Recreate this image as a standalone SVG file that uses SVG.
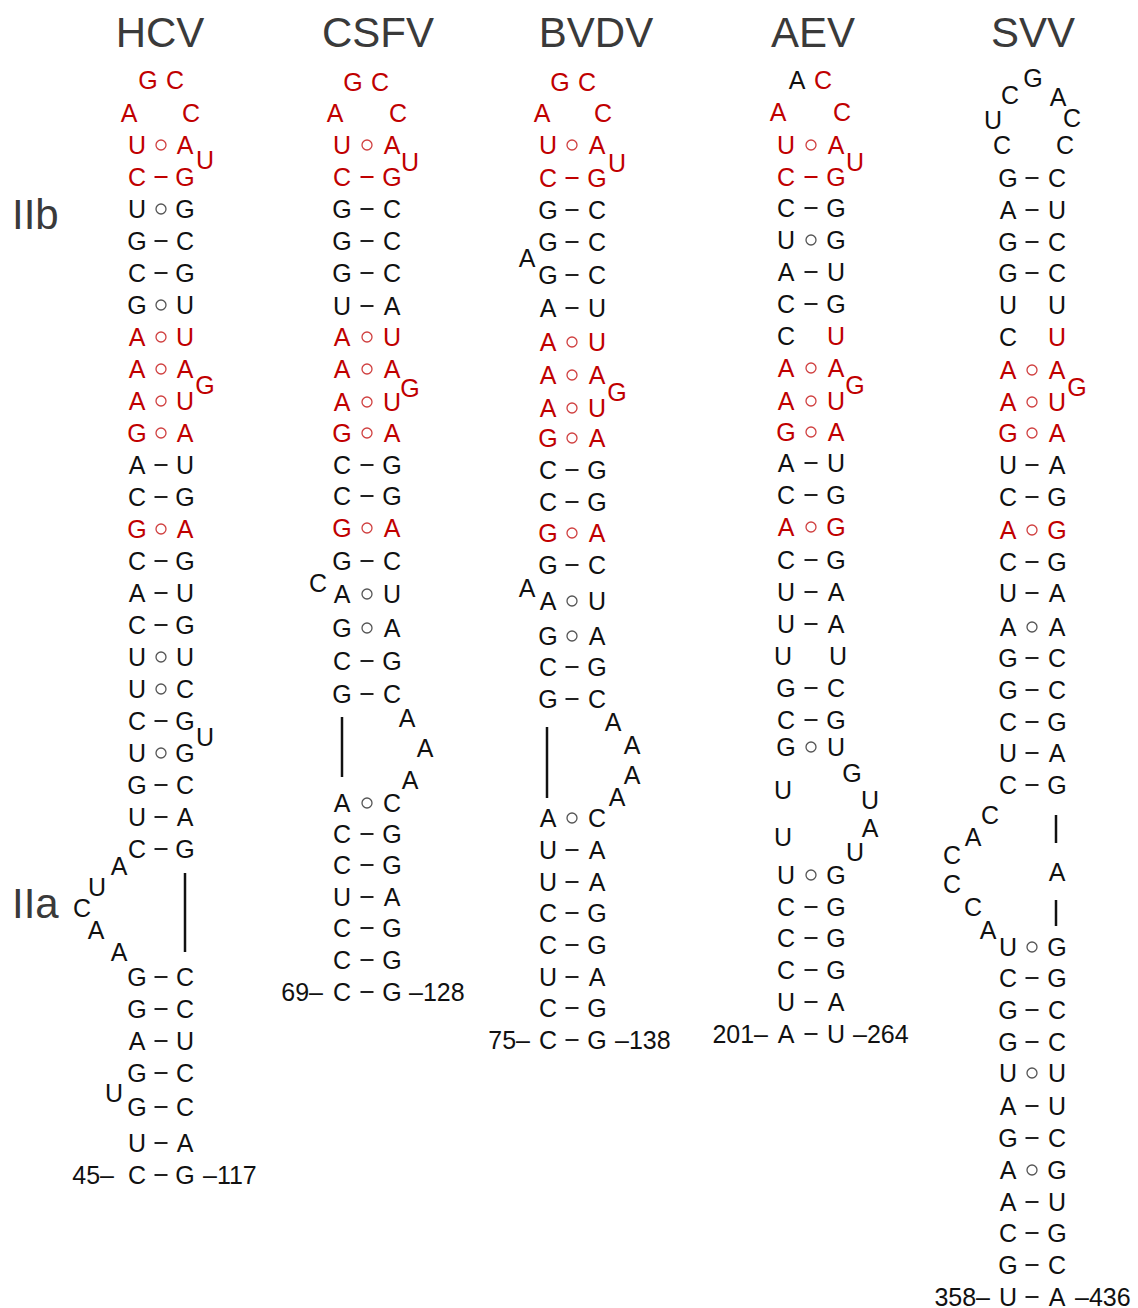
<svg xmlns="http://www.w3.org/2000/svg" width="1138" height="1308" viewBox="0 0 1138 1308">
<style>
text{font-family:"Liberation Sans",Arial,sans-serif;font-size:25px;fill:#111;text-anchor:middle}
text.r{fill:#c00000}
text.h{font-size:42px;fill:#3a3a3a}
text.s{text-anchor:start}
text.e{text-anchor:end}
line.d{stroke:#222;stroke-width:2}
line.d.r{stroke:#c00000}
circle{fill:none;stroke:#555;stroke-width:1.3}
circle.r{stroke:#d04040}
line.v{stroke:#111;stroke-width:2.5}
</style>
<rect width="1138" height="1308" fill="#fff"/>
<g id="titles">
<text class="h" x="160" y="47">HCV</text>
<text class="h" x="378" y="47">CSFV</text>
<text class="h" x="596" y="47">BVDV</text>
<text class="h" x="813" y="47">AEV</text>
<text class="h" x="1033" y="47">SVV</text>
<text class="h s" x="12" y="229">IIb</text>
<text class="h s" x="12" y="918">IIa</text>
</g>
<g id="HCV">
<text class="r" x="148" y="88.5">G</text><text class="r" x="175" y="88.5">C</text>
<text class="r" x="129" y="121.5">A</text><text class="r" x="191" y="121.5">C</text>
<text class="r" x="137" y="153.5">U</text><circle class="r" cx="161" cy="145" r="5"/><text class="r" x="185" y="153.5">A</text>
<text class="r" x="205" y="168.5">U</text>
<text class="r" x="137" y="185.5">C</text><line class="d r" x1="154.5" y1="177" x2="167.5" y2="177"/><text class="r" x="185" y="185.5">G</text>
<text x="137" y="217.5">U</text><circle cx="161" cy="209" r="5"/><text x="185" y="217.5">G</text>
<text x="137" y="249.5">G</text><line class="d" x1="154.5" y1="241" x2="167.5" y2="241"/><text x="185" y="249.5">C</text>
<text x="137" y="281.5">C</text><line class="d" x1="154.5" y1="273" x2="167.5" y2="273"/><text x="185" y="281.5">G</text>
<text x="137" y="313.5">G</text><circle cx="161" cy="305" r="5"/><text x="185" y="313.5">U</text>
<text class="r" x="137" y="345.5">A</text><circle class="r" cx="161" cy="337" r="5"/><text class="r" x="185" y="345.5">U</text>
<text class="r" x="137" y="377.5">A</text><circle class="r" cx="161" cy="369" r="5"/><text class="r" x="185" y="377.5">A</text>
<text class="r" x="205" y="393.5">G</text>
<text class="r" x="137" y="409.5">A</text><circle class="r" cx="161" cy="401" r="5"/><text class="r" x="185" y="409.5">U</text>
<text class="r" x="137" y="441.5">G</text><circle class="r" cx="161" cy="433" r="5"/><text class="r" x="185" y="441.5">A</text>
<text x="137" y="473.5">A</text><line class="d" x1="154.5" y1="465" x2="167.5" y2="465"/><text x="185" y="473.5">U</text>
<text x="137" y="505.5">C</text><line class="d" x1="154.5" y1="497" x2="167.5" y2="497"/><text x="185" y="505.5">G</text>
<text class="r" x="137" y="537.5">G</text><circle class="r" cx="161" cy="529" r="5"/><text class="r" x="185" y="537.5">A</text>
<text x="137" y="569.5">C</text><line class="d" x1="154.5" y1="561" x2="167.5" y2="561"/><text x="185" y="569.5">G</text>
<text x="137" y="601.5">A</text><line class="d" x1="154.5" y1="593" x2="167.5" y2="593"/><text x="185" y="601.5">U</text>
<text x="137" y="633.5">C</text><line class="d" x1="154.5" y1="625" x2="167.5" y2="625"/><text x="185" y="633.5">G</text>
<text x="137" y="665.5">U</text><circle cx="161" cy="657" r="5"/><text x="185" y="665.5">U</text>
<text x="137" y="697.5">U</text><circle cx="161" cy="689" r="5"/><text x="185" y="697.5">C</text>
<text x="137" y="729.5">C</text><line class="d" x1="154.5" y1="721" x2="167.5" y2="721"/><text x="185" y="729.5">G</text>
<text x="205" y="745.5">U</text>
<text x="137" y="761.5">U</text><circle cx="161" cy="753" r="5"/><text x="185" y="761.5">G</text>
<text x="137" y="793.5">G</text><line class="d" x1="154.5" y1="785" x2="167.5" y2="785"/><text x="185" y="793.5">C</text>
<text x="137" y="825.5">U</text><line class="d" x1="154.5" y1="817" x2="167.5" y2="817"/><text x="185" y="825.5">A</text>
<text x="137" y="857.5">C</text><line class="d" x1="154.5" y1="849" x2="167.5" y2="849"/><text x="185" y="857.5">G</text>
<text x="119" y="874.5">A</text><text x="97" y="895.5">U</text><text x="82" y="916.5">C</text><text x="96" y="938.5">A</text><text x="119" y="960.5">A</text>
<text x="137" y="985.5">G</text><line class="d" x1="154.5" y1="977" x2="167.5" y2="977"/><text x="185" y="985.5">C</text>
<text x="137" y="1017.5">G</text><line class="d" x1="154.5" y1="1009" x2="167.5" y2="1009"/><text x="185" y="1017.5">C</text>
<text x="137" y="1049.5">A</text><line class="d" x1="154.5" y1="1041" x2="167.5" y2="1041"/><text x="185" y="1049.5">U</text>
<text x="137" y="1081.5">G</text><line class="d" x1="154.5" y1="1073" x2="167.5" y2="1073"/><text x="185" y="1081.5">C</text>
<text x="114" y="1101.5">U</text>
<text x="137" y="1115.5">G</text><line class="d" x1="154.5" y1="1107" x2="167.5" y2="1107"/><text x="185" y="1115.5">C</text>
<text x="137" y="1151.5">U</text><line class="d" x1="154.5" y1="1143" x2="167.5" y2="1143"/><text x="185" y="1151.5">A</text>
<text class="e" x="114" y="1183.5">45–</text>
<text x="137" y="1183.5">C</text><line class="d" x1="154.5" y1="1175" x2="167.5" y2="1175"/><text x="185" y="1183.5">G</text>
<text class="s" x="203" y="1183.5">–117</text>
</g>
<g id="CSFV">
<text class="r" x="353" y="90.5">G</text><text class="r" x="380" y="90.5">C</text>
<text class="r" x="335" y="121.5">A</text><text class="r" x="398" y="121.5">C</text>
<text class="r" x="342" y="153.5">U</text><circle class="r" cx="367" cy="145" r="5"/><text class="r" x="392" y="153.5">A</text>
<text class="r" x="410" y="170.5">U</text>
<text class="r" x="342" y="185.5">C</text><line class="d r" x1="360.5" y1="177" x2="373.5" y2="177"/><text class="r" x="392" y="185.5">G</text>
<text x="342" y="217.5">G</text><line class="d" x1="360.5" y1="209" x2="373.5" y2="209"/><text x="392" y="217.5">C</text>
<text x="342" y="249.5">G</text><line class="d" x1="360.5" y1="241" x2="373.5" y2="241"/><text x="392" y="249.5">C</text>
<text x="342" y="281.5">G</text><line class="d" x1="360.5" y1="273" x2="373.5" y2="273"/><text x="392" y="281.5">C</text>
<text x="342" y="314.5">U</text><line class="d" x1="360.5" y1="306" x2="373.5" y2="306"/><text x="392" y="314.5">A</text>
<text class="r" x="342" y="345.5">A</text><circle class="r" cx="367" cy="337" r="5"/><text class="r" x="392" y="345.5">U</text>
<text class="r" x="342" y="377.5">A</text><circle class="r" cx="367" cy="369" r="5"/><text class="r" x="392" y="377.5">A</text>
<text class="r" x="410" y="396.5">G</text>
<text class="r" x="342" y="410.5">A</text><circle class="r" cx="367" cy="402" r="5"/><text class="r" x="392" y="410.5">U</text>
<text class="r" x="342" y="441.5">G</text><circle class="r" cx="367" cy="433" r="5"/><text class="r" x="392" y="441.5">A</text>
<text x="342" y="473.5">C</text><line class="d" x1="360.5" y1="465" x2="373.5" y2="465"/><text x="392" y="473.5">G</text>
<text x="342" y="504.5">C</text><line class="d" x1="360.5" y1="496" x2="373.5" y2="496"/><text x="392" y="504.5">G</text>
<text class="r" x="342" y="536.5">G</text><circle class="r" cx="367" cy="528" r="5"/><text class="r" x="392" y="536.5">A</text>
<text x="342" y="569.5">G</text><line class="d" x1="360.5" y1="561" x2="373.5" y2="561"/><text x="392" y="569.5">C</text>
<text x="318" y="591.5">C</text>
<text x="342" y="602.5">A</text><circle cx="367" cy="594" r="5"/><text x="392" y="602.5">U</text>
<text x="342" y="636.5">G</text><circle cx="367" cy="628" r="5"/><text x="392" y="636.5">A</text>
<text x="342" y="669.5">C</text><line class="d" x1="360.5" y1="661" x2="373.5" y2="661"/><text x="392" y="669.5">G</text>
<text x="342" y="702.5">G</text><line class="d" x1="360.5" y1="694" x2="373.5" y2="694"/><text x="392" y="702.5">C</text>
<text x="407" y="726.5">A</text><text x="425" y="756.5">A</text><text x="410" y="788.5">A</text>
<text x="342" y="811.5">A</text><circle cx="367" cy="803" r="5"/><text x="392" y="811.5">C</text>
<text x="342" y="842.5">C</text><line class="d" x1="360.5" y1="834" x2="373.5" y2="834"/><text x="392" y="842.5">G</text>
<text x="342" y="873.5">C</text><line class="d" x1="360.5" y1="865" x2="373.5" y2="865"/><text x="392" y="873.5">G</text>
<text x="342" y="905.5">U</text><line class="d" x1="360.5" y1="897" x2="373.5" y2="897"/><text x="392" y="905.5">A</text>
<text x="342" y="936.5">C</text><line class="d" x1="360.5" y1="928" x2="373.5" y2="928"/><text x="392" y="936.5">G</text>
<text x="342" y="968.5">C</text><line class="d" x1="360.5" y1="960" x2="373.5" y2="960"/><text x="392" y="968.5">G</text>
<text class="e" x="323" y="1000.5">69–</text>
<text x="342" y="1000.5">C</text><line class="d" x1="360.5" y1="992" x2="373.5" y2="992"/><text x="392" y="1000.5">G</text>
<text class="s" x="409" y="1000.5">–128</text>
</g>
<g id="BVDV">
<text class="r" x="560" y="90.5">G</text><text class="r" x="587" y="90.5">C</text>
<text class="r" x="542" y="121.5">A</text><text class="r" x="603" y="121.5">C</text>
<text class="r" x="548" y="153.5">U</text><circle class="r" cx="572" cy="145" r="5"/><text class="r" x="597" y="153.5">A</text>
<text class="r" x="617" y="171.5">U</text>
<text class="r" x="548" y="186.5">C</text><line class="d r" x1="565.5" y1="178" x2="578.5" y2="178"/><text class="r" x="597" y="186.5">G</text>
<text x="548" y="218.5">G</text><line class="d" x1="565.5" y1="210" x2="578.5" y2="210"/><text x="597" y="218.5">C</text>
<text x="548" y="250.5">G</text><line class="d" x1="565.5" y1="242" x2="578.5" y2="242"/><text x="597" y="250.5">C</text>
<text x="527" y="266.5">A</text>
<text x="548" y="283.5">G</text><line class="d" x1="565.5" y1="275" x2="578.5" y2="275"/><text x="597" y="283.5">C</text>
<text x="548" y="316.5">A</text><line class="d" x1="565.5" y1="308" x2="578.5" y2="308"/><text x="597" y="316.5">U</text>
<text class="r" x="548" y="350.5">A</text><circle class="r" cx="572" cy="342" r="5"/><text class="r" x="597" y="350.5">U</text>
<text class="r" x="548" y="383.5">A</text><circle class="r" cx="572" cy="375" r="5"/><text class="r" x="597" y="383.5">A</text>
<text class="r" x="617" y="400.5">G</text>
<text class="r" x="548" y="416.5">A</text><circle class="r" cx="572" cy="408" r="5"/><text class="r" x="597" y="416.5">U</text>
<text class="r" x="548" y="446.5">G</text><circle class="r" cx="572" cy="438" r="5"/><text class="r" x="597" y="446.5">A</text>
<text x="548" y="478.5">C</text><line class="d" x1="565.5" y1="470" x2="578.5" y2="470"/><text x="597" y="478.5">G</text>
<text x="548" y="510.5">C</text><line class="d" x1="565.5" y1="502" x2="578.5" y2="502"/><text x="597" y="510.5">G</text>
<text class="r" x="548" y="541.5">G</text><circle class="r" cx="572" cy="533" r="5"/><text class="r" x="597" y="541.5">A</text>
<text x="548" y="573.5">G</text><line class="d" x1="565.5" y1="565" x2="578.5" y2="565"/><text x="597" y="573.5">C</text>
<text x="527" y="596.5">A</text>
<text x="548" y="609.5">A</text><circle cx="572" cy="601" r="5"/><text x="597" y="609.5">U</text>
<text x="548" y="644.5">G</text><circle cx="572" cy="636" r="5"/><text x="597" y="644.5">A</text>
<text x="548" y="675.5">C</text><line class="d" x1="565.5" y1="667" x2="578.5" y2="667"/><text x="597" y="675.5">G</text>
<text x="548" y="707.5">G</text><line class="d" x1="565.5" y1="699" x2="578.5" y2="699"/><text x="597" y="707.5">C</text>
<text x="613" y="730.5">A</text><text x="632" y="753.5">A</text><text x="632" y="783.5">A</text><text x="617" y="805.5">A</text>
<text x="548" y="826.5">A</text><circle cx="572" cy="818" r="5"/><text x="597" y="826.5">C</text>
<text x="548" y="858.5">U</text><line class="d" x1="565.5" y1="850" x2="578.5" y2="850"/><text x="597" y="858.5">A</text>
<text x="548" y="890.5">U</text><line class="d" x1="565.5" y1="882" x2="578.5" y2="882"/><text x="597" y="890.5">A</text>
<text x="548" y="921.5">C</text><line class="d" x1="565.5" y1="913" x2="578.5" y2="913"/><text x="597" y="921.5">G</text>
<text x="548" y="953.5">C</text><line class="d" x1="565.5" y1="945" x2="578.5" y2="945"/><text x="597" y="953.5">G</text>
<text x="548" y="985.5">U</text><line class="d" x1="565.5" y1="977" x2="578.5" y2="977"/><text x="597" y="985.5">A</text>
<text x="548" y="1016.5">C</text><line class="d" x1="565.5" y1="1008" x2="578.5" y2="1008"/><text x="597" y="1016.5">G</text>
<text class="e" x="530" y="1048.5">75–</text>
<text x="548" y="1048.5">C</text><line class="d" x1="565.5" y1="1040" x2="578.5" y2="1040"/><text x="597" y="1048.5">G</text>
<text class="s" x="615" y="1048.5">–138</text>
</g>
<g id="AEV">
<text x="797" y="88.5">A</text><text class="r" x="823" y="88.5">C</text>
<text class="r" x="778" y="120.5">A</text><text class="r" x="842" y="120.5">C</text>
<text class="r" x="786" y="153.5">U</text><circle class="r" cx="811" cy="145" r="5"/><text class="r" x="836" y="153.5">A</text>
<text class="r" x="855" y="170.5">U</text>
<text class="r" x="786" y="185.5">C</text><line class="d r" x1="804.5" y1="177" x2="817.5" y2="177"/><text class="r" x="836" y="185.5">G</text>
<text x="786" y="216.5">C</text><line class="d" x1="804.5" y1="208" x2="817.5" y2="208"/><text x="836" y="216.5">G</text>
<text x="786" y="248.5">U</text><circle cx="811" cy="240" r="5"/><text x="836" y="248.5">G</text>
<text x="786" y="280.5">A</text><line class="d" x1="804.5" y1="272" x2="817.5" y2="272"/><text x="836" y="280.5">U</text>
<text x="786" y="312.5">C</text><line class="d" x1="804.5" y1="304" x2="817.5" y2="304"/><text x="836" y="312.5">G</text>
<text x="786" y="344.5">C</text><text class="r" x="836" y="344.5">U</text>
<text class="r" x="786" y="376.5">A</text><circle class="r" cx="811" cy="368" r="5"/><text class="r" x="836" y="376.5">A</text>
<text class="r" x="855" y="393.5">G</text>
<text class="r" x="786" y="409.5">A</text><circle class="r" cx="811" cy="401" r="5"/><text class="r" x="836" y="409.5">U</text>
<text class="r" x="786" y="440.5">G</text><circle class="r" cx="811" cy="432" r="5"/><text class="r" x="836" y="440.5">A</text>
<text x="786" y="471.5">A</text><line class="d" x1="804.5" y1="463" x2="817.5" y2="463"/><text x="836" y="471.5">U</text>
<text x="786" y="503.5">C</text><line class="d" x1="804.5" y1="495" x2="817.5" y2="495"/><text x="836" y="503.5">G</text>
<text class="r" x="786" y="535.5">A</text><circle class="r" cx="811" cy="527" r="5"/><text class="r" x="836" y="535.5">G</text>
<text x="786" y="568.5">C</text><line class="d" x1="804.5" y1="560" x2="817.5" y2="560"/><text x="836" y="568.5">G</text>
<text x="786" y="600.5">U</text><line class="d" x1="804.5" y1="592" x2="817.5" y2="592"/><text x="836" y="600.5">A</text>
<text x="786" y="632.5">U</text><line class="d" x1="804.5" y1="624" x2="817.5" y2="624"/><text x="836" y="632.5">A</text>
<text x="783" y="664.5">U</text><text x="838" y="664.5">U</text>
<text x="786" y="696.5">G</text><line class="d" x1="804.5" y1="688" x2="817.5" y2="688"/><text x="836" y="696.5">C</text>
<text x="786" y="728.5">C</text><line class="d" x1="804.5" y1="720" x2="817.5" y2="720"/><text x="836" y="728.5">G</text>
<text x="786" y="755.5">G</text><circle cx="811" cy="747" r="5"/><text x="836" y="755.5">U</text>
<text x="783" y="798.5">U</text><text x="783" y="845.5">U</text>
<text x="852" y="781.5">G</text><text x="870" y="808.5">U</text><text x="870" y="836.5">A</text><text x="855" y="860.5">U</text>
<text x="786" y="883.5">U</text><circle cx="811" cy="875" r="5"/><text x="836" y="883.5">G</text>
<text x="786" y="915.5">C</text><line class="d" x1="804.5" y1="907" x2="817.5" y2="907"/><text x="836" y="915.5">G</text>
<text x="786" y="946.5">C</text><line class="d" x1="804.5" y1="938" x2="817.5" y2="938"/><text x="836" y="946.5">G</text>
<text x="786" y="978.5">C</text><line class="d" x1="804.5" y1="970" x2="817.5" y2="970"/><text x="836" y="978.5">G</text>
<text x="786" y="1010.5">U</text><line class="d" x1="804.5" y1="1002" x2="817.5" y2="1002"/><text x="836" y="1010.5">A</text>
<text class="e" x="768" y="1042.5">201–</text>
<text x="786" y="1042.5">A</text><line class="d" x1="804.5" y1="1034" x2="817.5" y2="1034"/><text x="836" y="1042.5">U</text>
<text class="s" x="853" y="1042.5">–264</text>
</g>
<g id="SVV">
<text x="1033" y="86.5">G</text><text x="1010" y="103.5">C</text><text x="1058" y="105.5">A</text>
<text x="993" y="128.5">U</text><text x="1072" y="126.5">C</text>
<text x="1002" y="153.5">C</text><text x="1065" y="153.5">C</text>
<text x="1008" y="186.5">G</text><line class="d" x1="1025.5" y1="178" x2="1038.5" y2="178"/><text x="1057" y="186.5">C</text>
<text x="1008" y="218.5">A</text><line class="d" x1="1025.5" y1="210" x2="1038.5" y2="210"/><text x="1057" y="218.5">U</text>
<text x="1008" y="250.5">G</text><line class="d" x1="1025.5" y1="242" x2="1038.5" y2="242"/><text x="1057" y="250.5">C</text>
<text x="1008" y="281.5">G</text><line class="d" x1="1025.5" y1="273" x2="1038.5" y2="273"/><text x="1057" y="281.5">C</text>
<text x="1008" y="313.5">U</text><text x="1057" y="313.5">U</text>
<text x="1008" y="345.5">C</text><text class="r" x="1057" y="345.5">U</text>
<text class="r" x="1008" y="378.5">A</text><circle class="r" cx="1032" cy="370" r="5"/><text class="r" x="1057" y="378.5">A</text>
<text class="r" x="1077" y="395.5">G</text>
<text class="r" x="1008" y="410.5">A</text><circle class="r" cx="1032" cy="402" r="5"/><text class="r" x="1057" y="410.5">U</text>
<text class="r" x="1008" y="441.5">G</text><circle class="r" cx="1032" cy="433" r="5"/><text class="r" x="1057" y="441.5">A</text>
<text x="1008" y="473.5">U</text><line class="d" x1="1025.5" y1="465" x2="1038.5" y2="465"/><text x="1057" y="473.5">A</text>
<text x="1008" y="505.5">C</text><line class="d" x1="1025.5" y1="497" x2="1038.5" y2="497"/><text x="1057" y="505.5">G</text>
<text class="r" x="1008" y="538.5">A</text><circle class="r" cx="1032" cy="530" r="5"/><text class="r" x="1057" y="538.5">G</text>
<text x="1008" y="570.5">C</text><line class="d" x1="1025.5" y1="562" x2="1038.5" y2="562"/><text x="1057" y="570.5">G</text>
<text x="1008" y="601.5">U</text><line class="d" x1="1025.5" y1="593" x2="1038.5" y2="593"/><text x="1057" y="601.5">A</text>
<text x="1008" y="635.5">A</text><circle cx="1032" cy="627" r="5"/><text x="1057" y="635.5">A</text>
<text x="1008" y="666.5">G</text><line class="d" x1="1025.5" y1="658" x2="1038.5" y2="658"/><text x="1057" y="666.5">C</text>
<text x="1008" y="698.5">G</text><line class="d" x1="1025.5" y1="690" x2="1038.5" y2="690"/><text x="1057" y="698.5">C</text>
<text x="1008" y="730.5">C</text><line class="d" x1="1025.5" y1="722" x2="1038.5" y2="722"/><text x="1057" y="730.5">G</text>
<text x="1008" y="761.5">U</text><line class="d" x1="1025.5" y1="753" x2="1038.5" y2="753"/><text x="1057" y="761.5">A</text>
<text x="1008" y="793.5">C</text><line class="d" x1="1025.5" y1="785" x2="1038.5" y2="785"/><text x="1057" y="793.5">G</text>
<text x="990" y="823.5">C</text><text x="973" y="845.5">A</text><text x="952" y="864">C</text><text x="952" y="893">C</text><text x="973" y="915.5">C</text><text x="988" y="938.5">A</text>
<text x="1057" y="880.5">A</text>
<text x="1008" y="955.5">U</text><circle cx="1032" cy="947" r="5"/><text x="1057" y="955.5">G</text>
<text x="1008" y="986.5">C</text><line class="d" x1="1025.5" y1="978" x2="1038.5" y2="978"/><text x="1057" y="986.5">G</text>
<text x="1008" y="1018.5">G</text><line class="d" x1="1025.5" y1="1010" x2="1038.5" y2="1010"/><text x="1057" y="1018.5">C</text>
<text x="1008" y="1050.5">G</text><line class="d" x1="1025.5" y1="1042" x2="1038.5" y2="1042"/><text x="1057" y="1050.5">C</text>
<text x="1008" y="1081.5">U</text><circle cx="1032" cy="1073" r="5"/><text x="1057" y="1081.5">U</text>
<text x="1008" y="1114.5">A</text><line class="d" x1="1025.5" y1="1106" x2="1038.5" y2="1106"/><text x="1057" y="1114.5">U</text>
<text x="1008" y="1146.5">G</text><line class="d" x1="1025.5" y1="1138" x2="1038.5" y2="1138"/><text x="1057" y="1146.5">C</text>
<text x="1008" y="1178.5">A</text><circle cx="1032" cy="1170" r="5"/><text x="1057" y="1178.5">G</text>
<text x="1008" y="1210.5">A</text><line class="d" x1="1025.5" y1="1202" x2="1038.5" y2="1202"/><text x="1057" y="1210.5">U</text>
<text x="1008" y="1241.5">C</text><line class="d" x1="1025.5" y1="1233" x2="1038.5" y2="1233"/><text x="1057" y="1241.5">G</text>
<text x="1008" y="1273.5">G</text><line class="d" x1="1025.5" y1="1265" x2="1038.5" y2="1265"/><text x="1057" y="1273.5">C</text>
<text class="e" x="990" y="1305.5">358–</text>
<text x="1008" y="1305.5">U</text><line class="d" x1="1025.5" y1="1297" x2="1038.5" y2="1297"/><text x="1057" y="1305.5">A</text>
<text class="s" x="1075" y="1305.5">–436</text>
</g>
<g id="connectors">
<line class="v" x1="185" y1="873" x2="185" y2="952"/>
<line class="v" x1="342" y1="717" x2="342" y2="777"/>
<line class="v" x1="547" y1="727" x2="547" y2="798"/>
<line class="v" x1="1056" y1="815" x2="1056" y2="843"/>
<line class="v" x1="1056" y1="900" x2="1056" y2="926"/>
</g>
</svg>
